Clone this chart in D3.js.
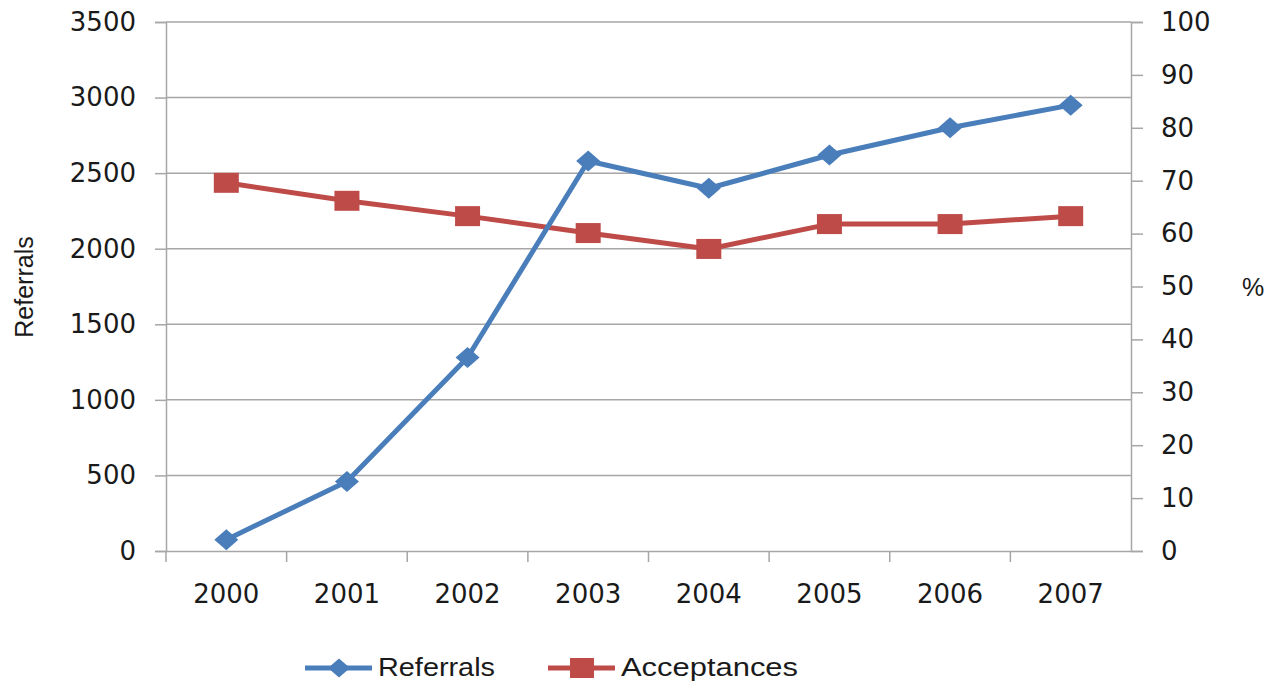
<!DOCTYPE html>
<html>
<head>
<meta charset="utf-8">
<script src="https://cdn.jsdelivr.net/npm/d3@7"></script>
<style>
  html, body { margin: 0; padding: 0; background: #fff; }
  svg { display: block; }
  text { fill: #1a1a1a; }
</style>
</head>
<body>
<svg id="chart" width="1280" height="682"></svg>
<script>
// Yearly referrals (left axis) and acceptance rate in percent (right axis)
const years = ["2000", "2001", "2002", "2003", "2004", "2005", "2006", "2007"];
const referrals = [75, 460, 1280, 2580, 2400, 2620, 2800, 2950];
const acceptances = [69.6, 66.2, 63.3, 60.1, 57.1, 61.8, 61.8, 63.3];
const leftTicks = [0, 500, 1000, 1500, 2000, 2500, 3000, 3500];
const rightTicks = [0, 10, 20, 30, 40, 50, 60, 70, 80, 90, 100];

const blue = "#4A7EBB";
const red = "#BE4B48";
const grid = "#A6A6A6";
const tickFont = "'DejaVu Sans', Verdana, sans-serif";
const labelFont = "'Liberation Sans', Arial, sans-serif";

const svg = d3.select("#chart");
const plot = { left: 166, right: 1131, top: 22, bottom: 551 };

const x = d3.scaleBand().domain(years).range([plot.left, plot.right]).padding(0);
const yL = d3.scaleLinear().domain([0, 3500]).range([plot.bottom, plot.top]);
const yR = d3.scaleLinear().domain([0, 100]).range([plot.bottom, plot.top]);

// horizontal gridlines at left-axis ticks
svg.append("g")
  .selectAll("line")
  .data(leftTicks.slice(1))
  .join("line")
  .attr("x1", plot.left).attr("x2", plot.right)
  .attr("y1", d => yL(d)).attr("y2", d => yL(d))
  .attr("stroke", grid).attr("stroke-width", 1.5);

// left axis
const leftAxis = svg.append("g")
  .attr("transform", `translate(${plot.left},0)`)
  .call(d3.axisLeft(yL).tickValues(leftTicks).tickFormat(d3.format("d")).tickSize(11).tickPadding(19));
// right axis
const rightAxis = svg.append("g")
  .attr("transform", `translate(${plot.right},0)`)
  .call(d3.axisRight(yR).tickValues(rightTicks).tickFormat(d3.format("d")).tickSize(12).tickPadding(18));
// bottom axis: ticks on category boundaries, labels at centres
const bottomAxis = svg.append("g")
  .attr("transform", `translate(0,${plot.bottom})`)
  .call(d3.axisBottom(x).tickSize(0).tickPadding(34));

bottomAxis.selectAll(".tick").append("line")
  .attr("x1", -x.bandwidth() / 2).attr("x2", -x.bandwidth() / 2)
  .attr("y1", 0).attr("y2", 11);
bottomAxis.append("line")
  .attr("x1", plot.right).attr("x2", plot.right).attr("y1", 0).attr("y2", 11);

[leftAxis, rightAxis, bottomAxis].forEach(g => {
  g.select(".domain").attr("stroke", grid).attr("stroke-width", 1.5);
  g.selectAll(".tick line").attr("stroke", grid).attr("stroke-width", 1.5);
  g.selectAll("text")
    .attr("font-family", tickFont)
    .attr("font-size", 26)
    .attr("fill", "#1a1a1a");
});
bottomAxis.select(".domain").attr("d", `M${plot.left},0.5H${plot.right}`);
bottomAxis.selectAll(".tick line").attr("stroke", grid).attr("stroke-width", 1.5);

// axis titles
svg.append("text")
  .attr("transform", `translate(33,287) rotate(-90)`)
  .attr("text-anchor", "middle")
  .attr("font-family", labelFont)
  .attr("font-size", 25)
  .text("Referrals");
svg.append("text")
  .attr("x", 1253).attr("y", 296)
  .attr("text-anchor", "middle")
  .attr("font-family", labelFont)
  .attr("font-size", 25)
  .text("%");

const cx = d => x(d) + x.bandwidth() / 2;

// series lines
svg.append("path")
  .datum(acceptances)
  .attr("fill", "none").attr("stroke", red).attr("stroke-width", 5)
  .attr("stroke-linejoin", "round")
  .attr("d", d3.line().x((d, i) => cx(years[i])).y(d => yR(d)));
svg.append("path")
  .datum(referrals)
  .attr("fill", "none").attr("stroke", blue).attr("stroke-width", 5)
  .attr("stroke-linejoin", "round")
  .attr("d", d3.line().x((d, i) => cx(years[i])).y(d => yL(d)));

// markers
const diamond = (w, h) => `M0,${-h / 2}L${w / 2},0L0,${h / 2}L${-w / 2},0Z`;
svg.append("g").selectAll("rect")
  .data(acceptances)
  .join("rect")
  .attr("x", (d, i) => cx(years[i]) - 12.5)
  .attr("y", d => yR(d) - 10)
  .attr("width", 25).attr("height", 20)
  .attr("fill", red);
svg.append("g").selectAll("path")
  .data(referrals)
  .join("path")
  .attr("transform", (d, i) => `translate(${cx(years[i])},${yL(d)})`)
  .attr("d", diamond(24, 21))
  .attr("fill", blue);

// legend
const legend = svg.append("g").attr("font-family", labelFont).attr("font-size", 26);
const items = [
  { name: "Referrals", color: blue, x0: 305, shape: "diamond", w: 117 },
  { name: "Acceptances", color: red, x0: 548, shape: "square", w: 177 }
];
const ly = 668;
items.forEach(it => {
  legend.append("line")
    .attr("x1", it.x0).attr("x2", it.x0 + 67)
    .attr("y1", ly).attr("y2", ly)
    .attr("stroke", it.color).attr("stroke-width", 5);
  if (it.shape === "diamond") {
    legend.append("path")
      .attr("transform", `translate(${it.x0 + 34},${ly})`)
      .attr("d", diamond(22, 19)).attr("fill", it.color);
  } else {
    legend.append("rect")
      .attr("x", it.x0 + 34 - 12).attr("y", ly - 10)
      .attr("width", 24).attr("height", 20).attr("fill", it.color);
  }
  legend.append("text")
    .attr("x", it.x0 + 73).attr("y", ly + 8)
    .attr("textLength", it.w).attr("lengthAdjust", "spacingAndGlyphs")
    .text(it.name);
});
</script>
</body>
</html>
